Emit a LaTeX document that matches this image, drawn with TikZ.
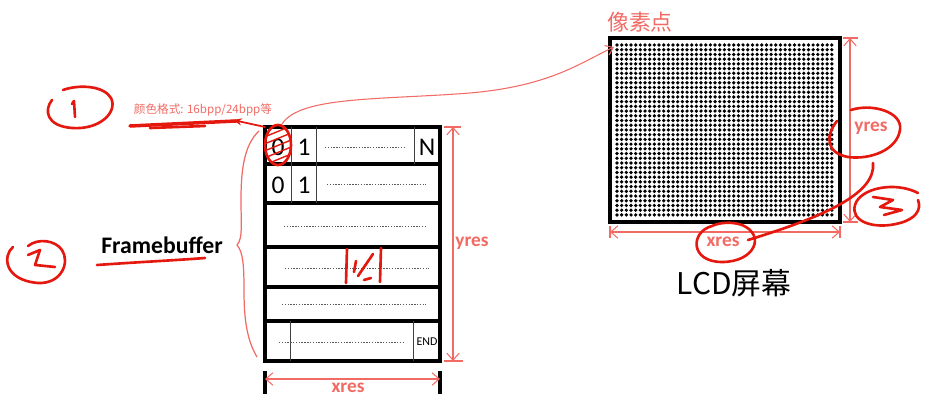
\documentclass[tikz,border=0pt]{standalone}
\usepackage{fontspec}
\setmainfont{Carlito}
\newfontfamily\cjk{Noto Sans CJK SC}
\usepackage{tikz}
\usetikzlibrary{arrows.meta}
\definecolor{dimred}{HTML}{F26A64}
\definecolor{penred}{HTML}{E4180E}

\begin{document}
\begin{tikzpicture}[x=0.02cm, y=-0.02cm,
  fbline/.style={line width=1.8pt, black},
  cellline/.style={line width=0.5pt, black!75},
  dotline/.style={line width=0.5pt, black!65, dash pattern=on 0.8pt off 0.8pt},
  dim/.style={line width=0.6pt, dimred},
  dimarrow/.style={dim, {Straight Barb[length=4pt,width=7pt]}-{Straight Barb[length=4pt,width=7pt]}},
  dimlabel/.style={text=dimred, font=\fontsize{11}{12}\selectfont\bfseries, inner sep=0pt},
  cell/.style={font=\fontsize{14.5}{16}\selectfont, inner sep=0pt},
  pen/.style={penred, line width=1.5pt, line cap=round, line join=round},
]
\useasboundingbox (0,0) rectangle (938,415);
%
% framebuffer
\coordinate (fbnw) at (265,127);
\coordinate (fbse) at (440,361);
\draw[fbline] (fbnw) rectangle (fbse);
\foreach \y in {164,203,247,287,321} \draw[fbline] (265,\y) -- (440,\y);
\foreach \x in {291,316,414} \draw[cellline] (\x,127) -- (\x,164);
\foreach \x in {291,316} \draw[cellline] (\x,164) -- (\x,203);
\foreach \x in {290,413} \draw[cellline] (\x,321) -- (\x,361);
\foreach \a/\b/\y in {325/405/147, 327/426/184, 284/427/226, 285/429/268, 282/426/304, 279/403/342}
  \draw[dotline] (\a,\y) -- (\b,\y);
\node[cell] (c00) at (278,147) {0};
\node[cell] (c01) at (304,147) {1};
\node[cell] (c0n) at (427,147) {N};
\node[cell] (c10) at (278,185) {0};
\node[cell] (c11) at (304,185) {1};
\node[font=\fontsize{6.8}{8}\selectfont, inner sep=0pt] (cend) at (427,342) {END};
%
\draw[dim] (444,127) -- (461,127);
\draw[dim] (444,361) -- (463,361);
\draw[dimarrow] (453,127) -- (453,361);
\node[dimlabel] (fbyres) at (472,243) {yres};
\draw[line width=1.8pt] (265,371) -- (265,394);
\draw[line width=1.8pt] (440,371) -- (440,394);
\draw[dimarrow] (265,379) -- (440,379);
\node[dimlabel] (fbxres) at (348,388) {xres};
%
% lcd
\coordinate (lcdnw) at (610,38);
\coordinate (lcdse) at (840,222);
\foreach \i in {0,...,46}
  \foreach \j in {0,...,36}
    \fill ({617+4.67*\i},{45+4.72*\j}) circle (1.05pt);
\draw[line width=1.8pt] (lcdnw) rectangle (lcdse);
\draw[dim] (843,38) -- (858,38);
\draw[dim] (843,222) -- (858,222);
\draw[dimarrow] (850,38) -- (850,222);
\node[dimlabel] (lcdyres) at (871,128) {yres};
\draw[dim] (610,226) -- (610,238);
\draw[dim] (840,226) -- (840,238);
\draw[dimarrow] (610,232) -- (840,232);
\node[dimlabel] (lcdxres) at (723,242) {xres};
\node[font=\cjk\fontsize{17}{19}\selectfont, inner sep=0pt] (lcdname) at (734,283) {LCD屏幕};
\node[text=dimred, font=\cjk\fontsize{12.5}{14}\selectfont, inner sep=0pt] (pixname) at (640,22) {像素点};
%
\coordinate (pixsrc) at (282,124);
\coordinate (pixdst) at (614,47);
\draw[dim, -{Straight Barb[length=4pt,width=6pt]}] (pixsrc) .. controls (300,96) and (380,100) .. (470,93) .. controls (550,86) and (580,63) .. (pixdst);
%
% framebuffer brace
\draw[dim, line width=0.7pt] (259,131) .. controls (244,145) and (241,170) .. (241,200) .. controls (241,225) and (243,238) .. (237,245) .. controls (243,252) and (244,265) .. (244,290) .. controls (244,320) and (247,340) .. (257,357);
\node[font=\fontsize{13.5}{15}\selectfont\bfseries, inner sep=0pt] (fbname) at (162,245) {Framebuffer};
%
% pixel format
\node[text=dimred, font=\cjk\fontsize{6.6}{8}\selectfont, inner sep=0pt] (fmt) at (203,110) {颜色格式: 16bpp/24bpp等};
\coordinate (fmtarrow) at (233,120);
\draw[pen, line width=1pt, -{Stealth[length=5pt,width=4pt]}] (fbnw) -- (fmtarrow);
%
% hand notes
\draw[pen, line width=2pt] (130,126) -- (236,121);
\draw[pen] (150,128) -- (205,126);
\draw[pen] (52,100) .. controls (44,110) and (46,126) .. (72,128) .. controls (100,130) and (118,112) .. (111,98) .. controls (104,86) and (80,84) .. (63,90);
\draw[pen] (72,104) -- (74,101) -- (75,117);
\begin{scope}
  \clip (278,145) ellipse [x radius=12, y radius=19];
  \foreach \k in {-40,-33,...,40} \draw[penred, line width=0.8pt] (262,{150+\k}) -- (296,{136+\k});
\end{scope}
\draw[pen] (278,145) ellipse [x radius=13, y radius=20];
\draw[pen] (13,247) .. controls (3,255) and (3,280) .. (38,283) .. controls (62,284) and (70,262) .. (62,250) .. controls (55,240) and (38,238) .. (28,246);
\draw[pen] (28,255) -- (40,250) -- (35,265) -- (55,267);
\draw[pen] (97,265) .. controls (140,262) and (180,260) .. (205,258);
\draw[pen] (347,249) -- (346,283);
\draw[pen] (381,248) -- (380,282);
\draw[pen] (356,261) -- (354,272);
\draw[pen] (358,276) -- (373,254);
\draw[pen] (364,280) -- (371,278);
\draw[pen] (851,110) .. controls (872,103) and (903,112) .. (900,130) .. controls (897,150) and (870,160) .. (848,157) .. controls (826,153) and (825,136) .. (837,121);
\draw[pen] (873,163) .. controls (876,192) and (830,215) .. (748,240);
\draw[pen] (712,226) .. controls (690,232) and (690,262) .. (722,262) .. controls (755,262) and (766,235) .. (742,225) .. controls (731,221) and (718,223) .. (712,226);
\draw[pen] (918,193) .. controls (895,181) and (860,188) .. (855,205) .. controls (850,222) and (875,230) .. (900,223) .. controls (915,219) and (922,210) .. (918,200);
\draw[pen] (873,197) -- (893,200) -- (880,207) -- (902,210) -- (884,215);
\end{tikzpicture}
\end{document}
